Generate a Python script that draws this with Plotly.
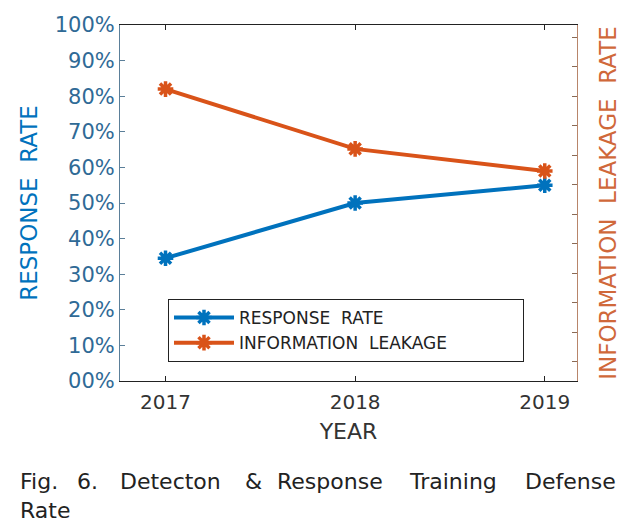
import plotly.graph_objects as go

years = [2017, 2018, 2019]
response_rate = [34.5, 50.0, 55.0]
info_leakage = [82.0, 65.2, 59.0]
y_tickvals = [0, 10, 20, 30, 40, 50, 60, 70, 80, 90, 100]
y_ticktext = ["00%", "10%", "20%", "30%", "40%", "50%", "60%", "70%", "80%", "90%", "100%"]
x_ticks = [2017, 2018, 2019]
caption_words = ["Fig.", "6.", "Detecton", "&", "Response", "Training", "Defense"]
caption_line2 = "Rate"

BLUE = "#0072BD"
ORANGE = "#D95319"
FONT = "DejaVu Sans"
NB = "\u00a0"

W, H = 635, 529
OFF = 8  # page body margin
L, R, T, B = 112, 66, 17, 156
PW, PH = W - L - R, H - T - B


def px(xp):
    return (xp - OFF - L) / PW


def py(yp):
    return (H - B - (yp - OFF)) / PH


fig = go.Figure()
fig.add_trace(go.Scatter(
    x=years, y=response_rate, name="RESPONSE  RATE", mode="lines+markers",
    line=dict(color=BLUE, width=4),
    marker=dict(symbol="asterisk-open", size=13, line=dict(color=BLUE, width=3.5), color=BLUE),
))
fig.add_trace(go.Scatter(
    x=years, y=info_leakage, name="INFORMATION  LEAKAGE" + NB * 13, mode="lines+markers",
    line=dict(color=ORANGE, width=4),
    marker=dict(symbol="asterisk-open", size=13, line=dict(color=ORANGE, width=3.5), color=ORANGE),
))
fig.add_trace(go.Scatter(x=[years[0]], y=[None], yaxis="y2", showlegend=False, hoverinfo="skip"))

fig.update_layout(
    template="none",
    width=W, height=H,
    margin=dict(l=L, r=R, t=T, b=B, autoexpand=False),
    paper_bgcolor="white", plot_bgcolor="white",
    font=dict(family=FONT, color="#333333"),
    xaxis=dict(
        automargin=False,
        range=[2016.76, 2019.17], tickvals=x_ticks, ticktext=[str(v) for v in x_ticks],
        ticks="inside", ticklen=5, tickcolor="#222", showline=True, linecolor="#222", linewidth=1,
        mirror="ticks", showgrid=False, zeroline=False, ticklabelstandoff=3,
        tickfont=dict(size=20, color="#333333", family=FONT),
        title=dict(text="YEAR", font=dict(size=22, color="#333333", family=FONT), standoff=10),
    ),
    yaxis=dict(
        automargin=False,
        range=[0, 100], tickvals=y_tickvals, ticktext=y_ticktext,
        ticks="inside", ticklen=5, tickcolor="#5b7f99", showline=True, linecolor="#5b7f99", linewidth=1,
        showgrid=False, zeroline=False,
        tickfont=dict(size=21, color="#2f6a96", family=FONT),
        title=dict(text="RESPONSE  RATE", font=dict(size=23, color=BLUE, family=FONT), standoff=10),
    ),
    yaxis2=dict(
        automargin=False,
        overlaying="y", side="right", range=[0.34, 12.41], dtick=1, tick0=0,
        ticks="inside", ticklen=5, tickcolor="#8a6a55", showline=True, linecolor="#b8856a", linewidth=1,
        showticklabels=False, showgrid=False, zeroline=False,
        title=dict(text="INFORMATION  LEAKAGE  RATE", font=dict(size=23, color="#d0683a", family=FONT), standoff=22),
    ),
    legend=dict(
        x=px(168), y=py(362), xanchor="left", yanchor="bottom",
        bgcolor="white", bordercolor="#222", borderwidth=1,
        font=dict(size=17, color="#222", family=FONT),
        itemwidth=60, tracegroupgap=0,
    ),
    showlegend=True,
)

cap_font = dict(family=FONT, size=22, color="#222")
word_x = [18, 75, 118, 243, 275, 407, 523]
for w, xw in zip(caption_words, word_x):
    fig.add_annotation(
        text=w, xref="paper", yref="paper", x=px(xw), y=py(481),
        xanchor="left", yanchor="middle", showarrow=False, font=cap_font,
    )
fig.add_annotation(
    text=caption_line2, xref="paper", yref="paper", x=px(18), y=py(510),
    xanchor="left", yanchor="middle", showarrow=False, font=cap_font,
)

fig.write_html("out.html")
